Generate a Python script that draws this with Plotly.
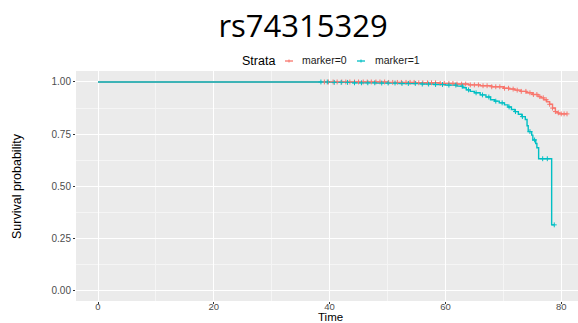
import numpy as np
import plotly.graph_objects as go

# Kaplan-Meier step curves per stratum (time, survival at the start of each step)
strata = ["marker=0", "marker=1"]
colors = ["#F8766D", "#00BFC4"]

m0_time = [0.0, 50.0, 55.0, 59.0, 62.0, 64.0, 66.0, 68.0, 70.0, 71.0, 72.0, 73.0, 74.0,
           75.0, 76.0, 76.5, 77.0, 77.5, 78.0, 78.5, 79.0, 79.3, 79.6, 81.0]
m0_surv = [1.0, 0.998, 0.996, 0.993, 0.990, 0.986, 0.982, 0.977, 0.970, 0.966, 0.961, 0.955, 0.948,
           0.940, 0.930, 0.924, 0.915, 0.905, 0.893, 0.875, 0.858, 0.852, 0.847, 0.847]

m1_time = [0.0, 40.0, 44.0, 48.0, 52.0, 56.0, 58.0, 60.0, 62.0, 63.0, 63.6, 64.3, 65.0, 66.0,
           67.0, 67.8, 68.5, 69.3, 70.2, 70.8, 71.4, 72.0, 72.6, 73.2, 73.8, 74.1, 74.3,
           74.9, 75.1, 75.6, 75.8, 76.1, 78.35, 78.8]
m1_surv = [1.0, 0.998, 0.996, 0.995, 0.993, 0.990, 0.988, 0.985, 0.980, 0.972, 0.962, 0.955, 0.948, 0.938,
           0.928, 0.915, 0.908, 0.900, 0.890, 0.880, 0.868, 0.858, 0.845, 0.834, 0.820, 0.790, 0.762,
           0.745, 0.722, 0.705, 0.685, 0.632, 0.315, 0.315]

# Censoring times
m0_cens = [39.1, 39.8, 40.6, 41.3, 42.1, 42.8, 43.5, 44.3, 45.0, 45.8, 46.5, 47.2, 48.0, 48.7,
           49.5, 50.2, 50.9, 51.7, 52.4, 53.2, 53.9, 54.6, 55.4, 56.1, 56.9, 57.6, 58.3, 59.1,
           59.8, 60.6, 61.3, 62.0, 62.8, 63.5, 64.3, 65.0, 65.7, 66.5, 67.2, 68.0, 68.7, 69.4,
           70.2, 70.9, 71.7, 72.4, 73.1, 73.9, 74.6, 75.2, 75.8, 76.3, 76.9, 77.4, 78.0, 78.5,
           79.0, 79.5, 80.0, 80.5, 81.0]
m1_cens = [38.5, 39.6, 40.8, 42.0, 43.1, 44.3, 45.5, 46.6, 47.8, 49.0, 50.1, 51.3, 52.5, 53.6,
           54.8, 56.0, 57.1, 58.3, 59.5, 60.6, 61.8, 62.9, 64.0, 65.3, 66.4, 67.5, 68.7, 69.8,
           71.0, 72.1, 73.3, 74.6, 75.4, 76.8, 77.6, 78.8]

x_ticks = [0, 20, 40, 60, 80]
y_ticks = [0.0, 0.25, 0.50, 0.75, 1.00]
y_tick_text = ["0.00", "0.25", "0.50", "0.75", "1.00"]


def surv_at(times, surv, t):
    idx = np.searchsorted(np.asarray(times), np.asarray(t), side="right") - 1
    return np.asarray(surv)[idx]


curves = [(m0_time, m0_surv, m0_cens), (m1_time, m1_surv, m1_cens)]

fig = go.Figure()
for (t, s, _), col, name in zip(curves, colors, strata):
    fig.add_trace(go.Scatter(x=t, y=s, mode="lines", line=dict(color=col, width=1.4, shape="hv"),
                             name=name, showlegend=False, hoverinfo="skip"))
for (t, s, c), col, name in zip(curves, colors, strata):
    fig.add_trace(go.Scatter(x=c, y=surv_at(t, s, c), mode="markers",
                             marker=dict(symbol="cross-thin", size=3.5, line=dict(color=col, width=1)),
                             showlegend=False, hoverinfo="skip"))

W, H = 578, 323
L, R, T, B = 76, 0, 71, 22
PW, PH = W - L - R, H - T - B


def px(xp):
    return (xp - L) / PW


def py(yp):
    return 1 - (yp - T) / PH


tick_font = dict(family="Liberation Sans, Arial", size=9.5, color="#4D4D4D")
fig.update_layout(
    width=W, height=H,
    margin=dict(l=L, r=R, t=T, b=B),
    paper_bgcolor="white", plot_bgcolor="#EBEBEB",
    title=dict(text="rs74315329", xref="container", yref="container",
               x=303 / W, y=1 - 26 / H, xanchor="center", yanchor="middle",
               font=dict(family="Open Sans", size=31, color="black")),
    xaxis=dict(range=[-3.8, 82.9], tickvals=x_ticks, ticks="outside", ticklen=2, tickcolor="#333333",
               tickfont=tick_font, ticklabelstandoff=-5, showgrid=True, gridcolor="white", gridwidth=1,
               zeroline=False, showline=False,
               minor=dict(dtick=10, tick0=0, showgrid=True, gridcolor="#F5F5F5", gridwidth=0.6)),
    yaxis=dict(range=[-0.05, 1.0526], tickvals=y_ticks, ticktext=y_tick_text, ticks="outside", ticklen=2,
               tickcolor="#333333", tickfont=dict(tick_font, size=10), showgrid=True, gridcolor="white",
               gridwidth=1, zeroline=False, showline=False,
               minor=dict(dtick=0.125, tick0=0, showgrid=True, gridcolor="#F5F5F5", gridwidth=0.6)),
)

annots = [
    dict(text="Time", x=px(330), y=py(316.5), font=dict(family="Liberation Sans, Arial", size=11.5, color="black"),
         borderpad=0),
    dict(text="Survival probability", x=px(17), y=py(186), textangle=-90,
         font=dict(family="Liberation Sans Narrow, Liberation Sans, Arial", size=12.5, color="black")),
    dict(text="Strata", x=px(240), y=py(61), xanchor="left",
         font=dict(family="Liberation Sans, Arial", size=12.5, color="black")),
    dict(text=strata[0], x=px(300), y=py(60), xanchor="left",
         font=dict(family="Liberation Sans, Arial", size=10.5, color="#1A1A1A")),
    dict(text=strata[1], x=px(373), y=py(60), xanchor="left",
         font=dict(family="Liberation Sans, Arial", size=10.5, color="#1A1A1A")),
]
for a in annots:
    a.update(xref="paper", yref="paper", showarrow=False)
    a.setdefault("xanchor", "center")
    a.setdefault("yanchor", "middle")
fig.update_layout(annotations=annots)

# legend keys: short step line with a censor cross
shapes = []
for cx, col in zip([289, 361], colors):
    shapes.append(dict(type="line", xref="paper", yref="paper", x0=px(cx - 4), x1=px(cx + 4),
                       y0=py(61), y1=py(61), line=dict(color=col, width=1.3)))
    shapes.append(dict(type="line", xref="paper", yref="paper", x0=px(cx), x1=px(cx),
                       y0=py(59.5), y1=py(62.5), line=dict(color=col, width=1)))
fig.update_layout(shapes=shapes)

fig.write_html("out.html")
